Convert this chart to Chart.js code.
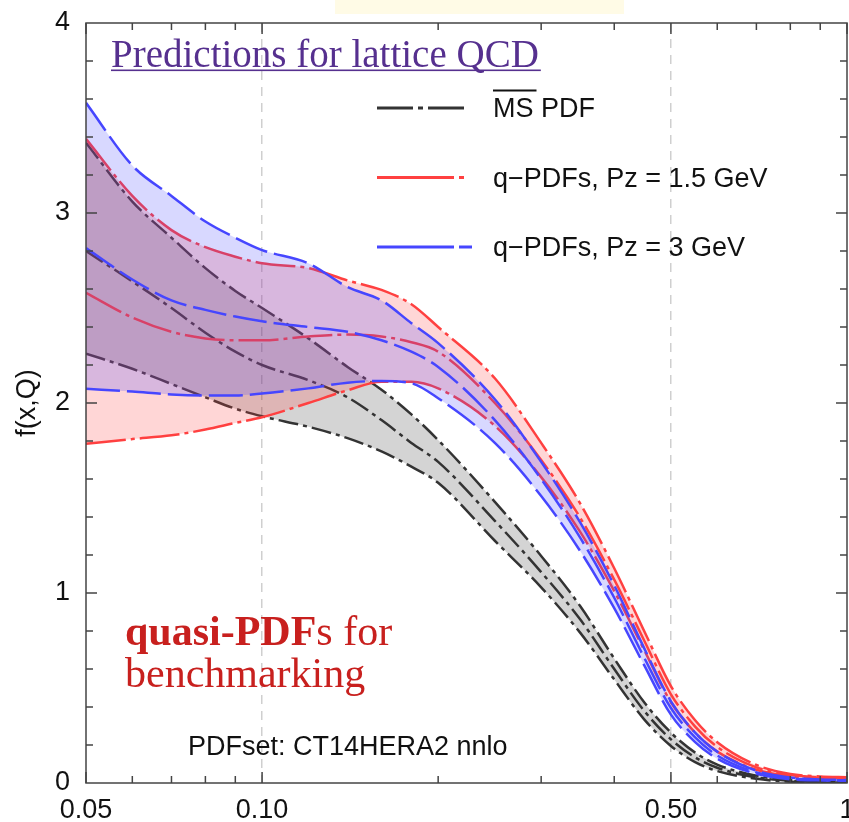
<!DOCTYPE html>
<html>
<head>
<meta charset="utf-8">
<script src="https://cdn.jsdelivr.net/npm/chart.js@4.4.1/dist/chart.umd.min.js"></script>
<style>
  html, body { margin: 0; padding: 0; background: #fff; }
  #wrap { position: relative; width: 849px; height: 822px; }
  #note { position: absolute; left: 335px; top: 0; width: 289px; height: 14px; background: #fffbe6; }
  canvas { position: absolute; left: 0; top: 0; }
</style>
</head>
<body>
<div id="wrap">
  <div id="note"></div>
  <canvas id="chart" width="849" height="822"></canvas>
</div>
<script>
// x grid (momentum fraction)
const xs = [0.05, 0.06, 0.07, 0.08, 0.09, 0.10, 0.12, 0.14, 0.16, 0.18, 0.20, 0.25, 0.30, 0.35, 0.40, 0.45, 0.50, 0.55, 0.60, 0.70, 0.80, 0.90, 1.00];

// MS-bar PDF band
const msUpper   = [3.37, 3.06, 2.87, 2.71, 2.59, 2.50, 2.34, 2.19, 2.07, 1.94, 1.805, 1.48, 1.195, 0.93, 0.655, 0.425, 0.265, 0.16, 0.097, 0.038, 0.015, 0.006, 0.004];
const msCentral = [2.80, 2.64, 2.50, 2.37, 2.27, 2.20, 2.12, 2.03, 1.91, 1.79, 1.69, 1.38, 1.11, 0.86, 0.60, 0.38, 0.23, 0.135, 0.08, 0.03, 0.011, 0.005, 0.003];
const msLower   = [2.26, 2.18, 2.10, 2.03, 1.97, 1.93, 1.875, 1.815, 1.745, 1.665, 1.58, 1.275, 1.03, 0.79, 0.545, 0.335, 0.195, 0.11, 0.063, 0.022, 0.007, 0.003, 0.002];

// quasi-PDFs, Pz = 1.5 GeV
const q15Upper   = [3.39, 3.09, 2.91, 2.82, 2.77, 2.735, 2.71, 2.645, 2.595, 2.52, 2.40, 2.13, 1.79, 1.47, 1.13, 0.80, 0.51, 0.33, 0.215, 0.095, 0.048, 0.034, 0.03];
const q15Central = [2.58, 2.45, 2.375, 2.34, 2.33, 2.33, 2.35, 2.36, 2.35, 2.32, 2.27, 2.00, 1.70, 1.395, 1.07, 0.75, 0.467, 0.297, 0.19, 0.082, 0.042, 0.031, 0.028];
const q15Lower   = [1.785, 1.81, 1.83, 1.86, 1.895, 1.925, 2.0, 2.067, 2.112, 2.112, 2.077, 1.88, 1.61, 1.32, 1.01, 0.70, 0.425, 0.265, 0.165, 0.07, 0.036, 0.028, 0.026];

// quasi-PDFs, Pz = 3 GeV
const q3Upper   = [3.58, 3.25, 3.09, 2.955, 2.87, 2.805, 2.735, 2.61, 2.54, 2.42, 2.315, 2.02, 1.69, 1.37, 1.04, 0.71, 0.43, 0.265, 0.165, 0.065, 0.029, 0.019, 0.016];
const q3Central = [2.815, 2.65, 2.54, 2.49, 2.455, 2.43, 2.40, 2.375, 2.33, 2.27, 2.19, 1.91, 1.60, 1.29, 0.975, 0.66, 0.395, 0.24, 0.145, 0.056, 0.025, 0.016, 0.014];
const q3Lower   = [2.075, 2.06, 2.045, 2.04, 2.04, 2.05, 2.077, 2.107, 2.116, 2.104, 2.025, 1.79, 1.51, 1.22, 0.92, 0.62, 0.36, 0.215, 0.128, 0.048, 0.02, 0.014, 0.012];

// axis ticks
const xTicks = [0.05, 0.1, 0.5, 1];
const xTickLabels = ["0.05", "0.10", "0.50", "1"];
const xMinor = [0.06, 0.07, 0.08, 0.09, 0.2, 0.3, 0.4, 0.6, 0.7, 0.8, 0.9];
const yTicks = [0, 1, 2, 3, 4];

const legendItems = [
    { label: "MS PDF", color: "#333333", dash: [36, 5, 5, 5], end: 464 },
    { label: "q\u2212PDFs, Pz = 1.5 GeV", color: "#ff4040", dash: [77, 5, 5, 5], end: 464 },
    { label: "q\u2212PDFs, Pz = 3 GeV", color: "#4646ff", dash: [77, 5], end: 472 }
];

const BLACK = "#333333", RED = "#ff4040", BLUE = "#4646ff";
const DASH_MS = [20, 5, 4, 5], DASH_Q15 = [40, 5, 4, 5], DASH_Q3 = [34, 7];

function line(label, ys, color, dash, order, fill, bg) {
    return {
        label: label,
        data: xs.map((x, i) => ({ x: x, y: ys[i] })),
        borderColor: color,
        borderWidth: 2.5,
        borderDash: dash,
        pointRadius: 0,
        fill: fill || false,
        backgroundColor: bg || "rgba(0,0,0,0)",
        cubicInterpolationMode: "monotone",
        order: order
    };
}

// higher order is drawn first; each band fill sits on its lower curve
const datasets = [
    line("ms upper", msUpper, BLACK, DASH_MS, 8),
    line("ms central", msCentral, BLACK, DASH_MS, 7),
    line("ms lower", msLower, BLACK, DASH_MS, 9, "-2", "rgba(0,0,0,0.17)"),
    line("q15 upper", q15Upper, RED, DASH_Q15, 5),
    line("q15 central", q15Central, RED, DASH_Q15, 4),
    line("q15 lower", q15Lower, RED, DASH_Q15, 6, "-2", "rgba(255,70,70,0.22)"),
    line("q3 upper", q3Upper, BLUE, DASH_Q3, 2),
    line("q3 central", q3Central, BLUE, DASH_Q3, 1),
    line("q3 lower", q3Lower, BLUE, DASH_Q3, 3, "-2", "rgba(70,70,255,0.21)")
];

const decor = {
    id: "decor",
    afterDraw(chart) {
        const ctx = chart.ctx;
        const a = chart.chartArea;
        const x = chart.scales.x, y = chart.scales.y;
        ctx.save();

        // frame + inward ticks on all four sides
        ctx.strokeStyle = "#444";
        ctx.lineWidth = 1.5;
        ctx.setLineDash([]);
        ctx.strokeRect(a.left, a.top, a.right - a.left, a.bottom - a.top);
        ctx.beginPath();
        for (let v = 0.2; v < 4; v += 0.2) {
            const py = y.getPixelForValue(v);
            const major = Math.abs(v - Math.round(v)) < 1e-6;
            const len = major ? 11 : 7;
            ctx.moveTo(a.left, py); ctx.lineTo(a.left + len, py);
            ctx.moveTo(a.right, py); ctx.lineTo(a.right - len, py);
        }
        xTicks.concat(xMinor).forEach(v => {
            const px = x.getPixelForValue(v);
            const len = xTicks.includes(v) ? 11 : 7;
            ctx.moveTo(px, a.bottom); ctx.lineTo(px, a.bottom - len);
            ctx.moveTo(px, a.top); ctx.lineTo(px, a.top + len);
        });
        ctx.stroke();

        // title
        ctx.font = '39px "Liberation Serif"';
        ctx.fillStyle = "#56308f";
        ctx.textBaseline = "alphabetic";
        ctx.textAlign = "left";
        const title = "Predictions for lattice QCD";
        ctx.fillText(title, 111, 67);
        ctx.fillRect(111, 69.5, ctx.measureText(title).width + 2, 1.6);

        // legend
        legendItems.forEach((it, i) => {
            const ly = 108 + i * 69.5;
            ctx.strokeStyle = it.color;
            ctx.lineWidth = 3;
            ctx.setLineDash(it.dash);
            ctx.beginPath();
            ctx.moveTo(377, ly); ctx.lineTo(it.end, ly);
            ctx.stroke();
            ctx.setLineDash([]);
            ctx.font = '27px "Liberation Sans"';
            ctx.fillStyle = "#111";
            ctx.fillText(it.label, 493, ly + 9);
            if (i === 0) {
                const w = ctx.measureText("MS").width;
                ctx.fillRect(493, 89.5, w + 3, 2);
            }
        });

        // annotation
        ctx.fillStyle = "#c8201e";
        ctx.font = 'bold 42px "Liberation Serif"';
        ctx.fillText("quasi-PDF", 125, 645);
        const wb = ctx.measureText("quasi-PDF").width;
        ctx.font = '42px "Liberation Serif"';
        ctx.fillText("s for", 125 + wb, 645);
        ctx.fillText("benchmarking", 125, 687);

        ctx.fillStyle = "#111";
        ctx.font = '27px "Liberation Sans"';
        ctx.fillText("PDFset: CT14HERA2 nnlo", 188, 755);

        ctx.restore();
    }
};

Chart.defaults.color = "#111";
Chart.defaults.font.family = "Liberation Sans";

new Chart(document.getElementById("chart"), {
    type: "line",
    data: { datasets: datasets },
    options: {
        responsive: false,
        animation: false,
        layout: { padding: { top: 23, right: 2, left: 0, bottom: 0 } },
        plugins: { legend: { display: false }, tooltip: { enabled: false } },
        scales: {
            x: {
                type: "logarithmic",
                min: 0.05,
                max: 1,
                afterBuildTicks: s => { s.ticks = xTicks.map(v => ({ value: v })); },
                afterFit: s => { s.height = 39; s.paddingLeft = 0; s.paddingRight = 0; },
                ticks: {
                    autoSkip: false,
                    maxRotation: 0,
                    padding: 11,
                    font: { size: 27 },
                    callback: (v, i) => xTickLabels[i]
                },
                grid: {
                    drawTicks: false,
                    lineWidth: 1.5,
                    color: c => (c.tick && (c.tick.value === 0.1 || c.tick.value === 0.5)) ? "#cfcfcf" : "rgba(0,0,0,0)"
                },
                border: { display: false, dash: [9, 7] }
            },
            y: {
                min: 0,
                max: 4,
                afterBuildTicks: s => { s.ticks = yTicks.map(v => ({ value: v })); },
                afterFit: s => { s.width = 86; s.paddingTop = 0; s.paddingBottom = 0; },
                ticks: { padding: 8, font: { size: 27 } },
                grid: { display: false },
                border: { display: false },
                title: {
                    display: true,
                    text: "f(x,Q)",
                    font: { size: 27 },
                    padding: { top: 11, bottom: 0 }
                }
            }
        }
    },
    plugins: [decor]
});
</script>
</body>
</html>
